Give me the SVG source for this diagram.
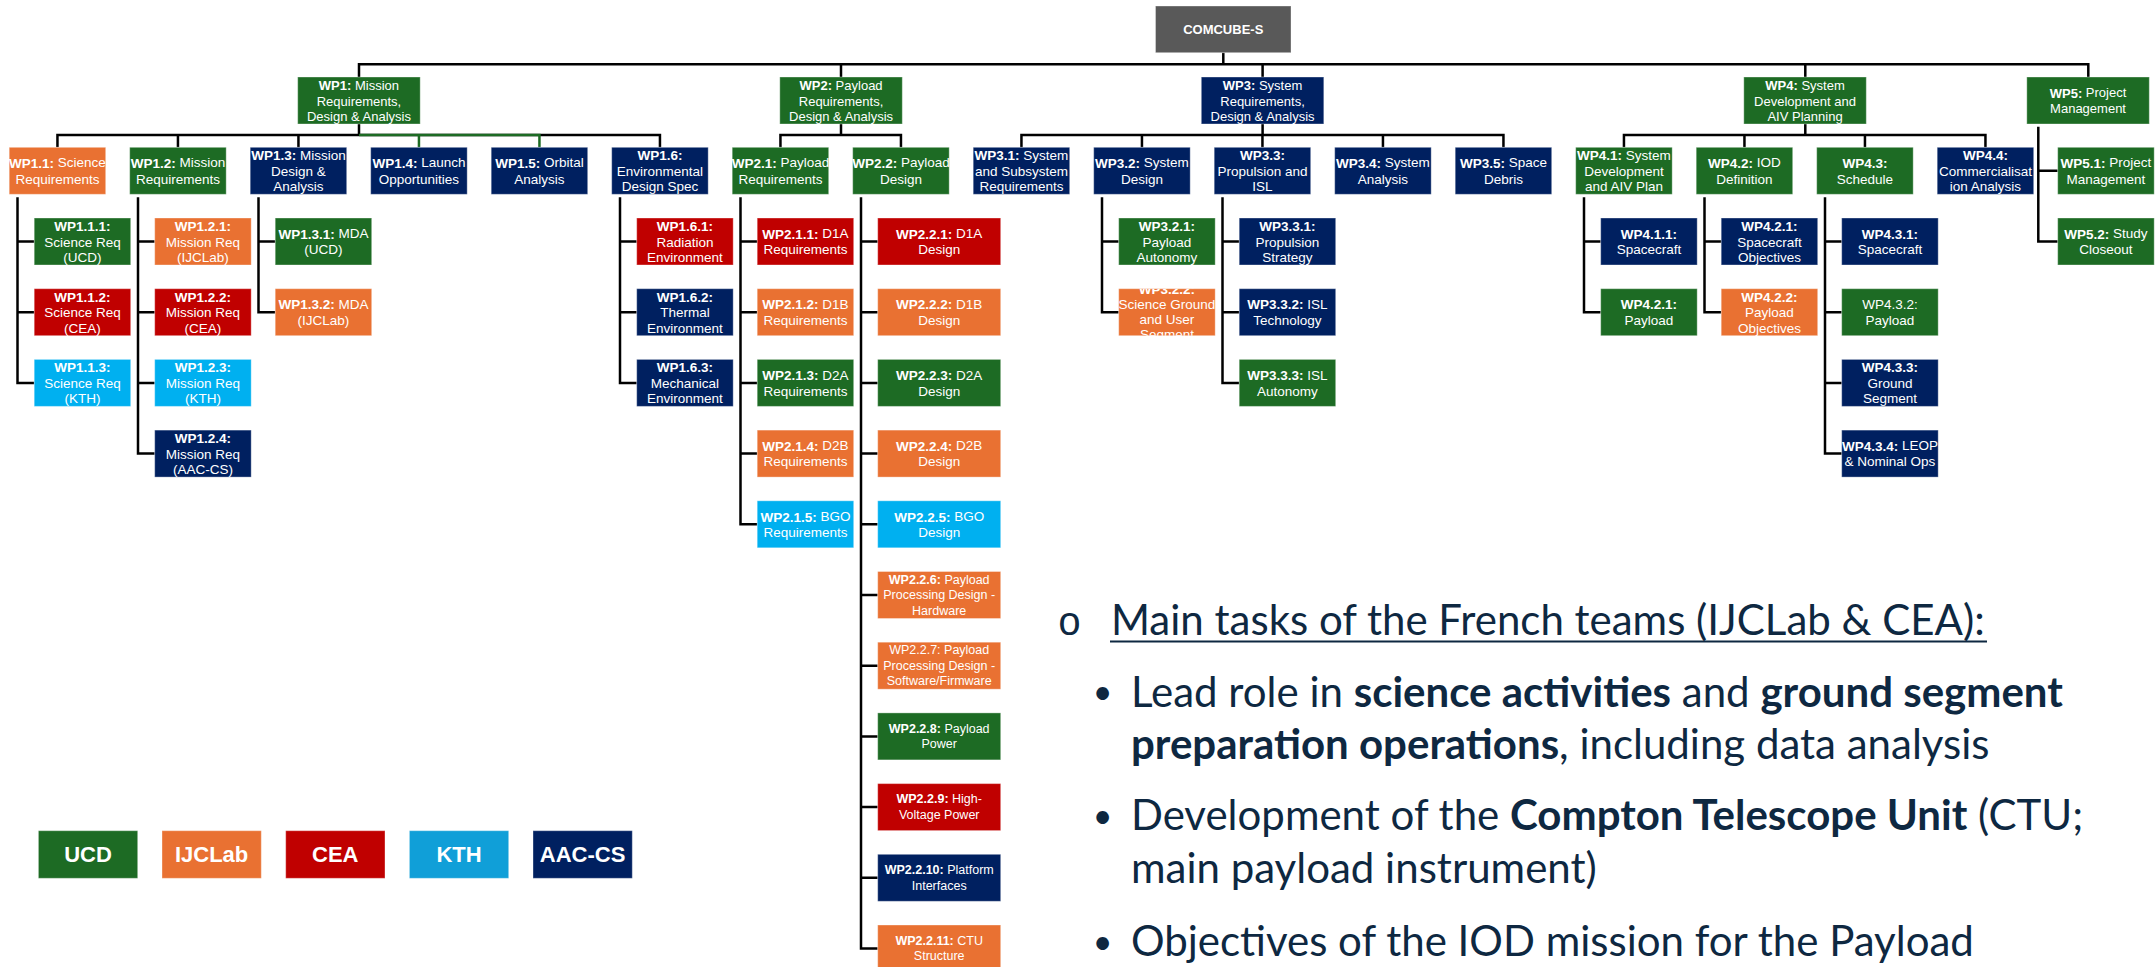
<svg xmlns="http://www.w3.org/2000/svg" width="2156" height="967" viewBox="0 0 2156 967">
<style>
  .bx{stroke:#ffffff;stroke-opacity:0.35;stroke-width:1}
  .gr{fill:#1d6b24}
  .or{fill:#e97132}
  .rd{fill:#c00000}
  .bl{fill:#00b0f0}
  .nv{fill:#002060}
  .gy{fill:#595959}
  .t{font-family:"Liberation Sans",Arial,sans-serif;font-size:13.5px;fill:#ffffff;text-anchor:middle;dominant-baseline:central}
  .t13{font-size:13px}
  .t12{font-size:12.5px}
  .k{font-weight:bold}
  .c{fill:none;stroke:#000000;stroke-width:2.5}
  .cg{fill:none;stroke:#1d6b24;stroke-width:2.5}
  .lg{font-family:"Liberation Sans",Arial,sans-serif;font-size:22px;font-weight:bold;fill:#ffffff;text-anchor:middle;dominant-baseline:central}
  .p{font-family:Lato,"Liberation Sans",sans-serif;font-size:42px;fill:#0e2841}
  .pb{font-weight:bold}
  .dot{font-family:Lato,"Liberation Sans",sans-serif;font-size:34px;fill:#0e2841;text-anchor:middle}
</style>
<defs>
  <clipPath id="clip-wp322"><rect x="1118.7" y="288.7" width="96.5" height="47"/></clipPath>
</defs>

<!-- tree connectors -->
<g id="connectors">
  <path class="c" d="M1223.3 52.7V64.3"/>
  <path class="c" d="M359 77V64.3H2088.3V77M841 64.3V77M1262.6 64.3V77M1805.3 64.3V77"/>
  <!-- WP1 branch -->
  <path class="c" d="M359 124V135M57.45 147.3V135H659.95V147.3M177.95 135V147.3M298.45 135V147.3"/>
  <path class="cg" d="M359 135H539.45V147.3M418.95 135V147.3"/>
  <!-- WP2 branch -->
  <path class="c" d="M841 124V135M780.45 147.3V135H900.95V147.3"/>
  <!-- WP3 branch -->
  <path class="c" d="M1262.6 124V135M1021.45 147.3V135H1503.45V147.3M1141.95 135V147.3M1262.45 135V147.3M1382.95 135V147.3"/>
  <!-- WP4 branch -->
  <path class="c" d="M1805.3 124V135M1623.95 147.3V135H1985.45V147.3M1744.45 135V147.3M1864.95 135V147.3"/>
  <!-- WP5 branch -->
  <path class="c" d="M2057.7 241.5H2038.3V126.7M2038.3 170.8H2057.7"/>
  <!-- child rails -->
  <path class="c" d="M34.2 382.9H17.5V197.3M17.5 241.5H34.2M17.5 312.2H34.2"/>
  <path class="c" d="M154.7 453.6H138V197.3M138 241.5H154.7M138 312.2H154.7M138 382.9H154.7"/>
  <path class="c" d="M275.2 312.2H258.5V197.3M258.5 241.5H275.2"/>
  <path class="c" d="M636.7 382.9H620V197.3M620 241.5H636.7M620 312.2H636.7"/>
  <path class="c" d="M757.2 524.3H740.5V197.3M740.5 241.5H757.2M740.5 312.2H757.2M740.5 382.9H757.2M740.5 453.6H757.2"/>
  <path class="c" d="M877.7 948.5H861V197.3M861 241.5H877.7M861 312.2H877.7M861 382.9H877.7M861 453.6H877.7M861 524.3H877.7M861 595H877.7M861 665.7H877.7M861 736.4H877.7M861 807.1H877.7M861 877.8H877.7"/>
  <path class="c" d="M1118.7 312.2H1102V197.3M1102 241.5H1118.7"/>
  <path class="c" d="M1239.2 382.9H1222.5V197.3M1222.5 241.5H1239.2M1222.5 312.2H1239.2"/>
  <path class="c" d="M1600.7 312.2H1584V197.3M1584 241.5H1600.7"/>
  <path class="c" d="M1721.2 312.2H1704.5V197.3M1704.5 241.5H1721.2"/>
  <path class="c" d="M1841.7 453.6H1825V197.3M1825 241.5H1841.7M1825 312.2H1841.7M1825 382.9H1841.7"/>
</g>

<!-- root -->
<g id="comcube-s"><rect class="bx gy" x="1155.5" y="6" width="135.5" height="46.7"/><text class="t t13 k" x="1223.25" y="29.5">COMCUBE-S</text></g>

<!-- work packages -->
<g id="wp1"><rect class="bx gr" x="297.7" y="77" width="122.5" height="47"/><text class="t t13" x="358.95" y="85"><tspan class="k">WP1:</tspan> Mission<tspan x="358.95" dy="15.5">Requirements,</tspan><tspan x="358.95" dy="15.5">Design &amp; Analysis</tspan></text></g>
<g id="wp2"><rect class="bx gr" x="779.8" y="77" width="122.5" height="47"/><text class="t t13" x="841.05" y="85"><tspan class="k">WP2:</tspan> Payload<tspan x="841.05" dy="15.5">Requirements,</tspan><tspan x="841.05" dy="15.5">Design &amp; Analysis</tspan></text></g>
<g id="wp3"><rect class="bx nv" x="1201.3" y="77" width="122.5" height="47"/><text class="t t13" x="1262.55" y="85"><tspan class="k">WP3:</tspan> System<tspan x="1262.55" dy="15.5">Requirements,</tspan><tspan x="1262.55" dy="15.5">Design &amp; Analysis</tspan></text></g>
<g id="wp4"><rect class="bx gr" x="1743.8" y="77" width="122.5" height="47"/><text class="t t13" x="1805.05" y="85"><tspan class="k">WP4:</tspan> System<tspan x="1805.05" dy="15.5">Development and</tspan><tspan x="1805.05" dy="15.5">AIV Planning</tspan></text></g>
<g id="wp5"><rect class="bx gr" x="2026.8" y="77" width="122.5" height="47"/><text class="t t13" x="2088.05" y="92.75"><tspan class="k">WP5:</tspan> Project<tspan x="2088.05" dy="15.5">Management</tspan></text></g>

<!-- second level -->
<g id="wp1-1"><rect class="bx or" x="9.2" y="147.3" width="96.5" height="47"/><text class="t" x="57.45" y="162.8"><tspan class="k">WP1.1:</tspan> Science<tspan x="57.45" dy="16">Requirements</tspan></text></g>
<g id="wp1-2"><rect class="bx gr" x="129.7" y="147.3" width="96.5" height="47"/><text class="t" x="177.95" y="162.8"><tspan class="k">WP1.2:</tspan> Mission<tspan x="177.95" dy="16">Requirements</tspan></text></g>
<g id="wp1-3"><rect class="bx nv" x="250.2" y="147.3" width="96.5" height="47"/><text class="t" x="298.45" y="155.3"><tspan class="k">WP1.3:</tspan> Mission<tspan x="298.45" dy="15.5">Design &amp;</tspan><tspan x="298.45" dy="15.5">Analysis</tspan></text></g>
<g id="wp1-4"><rect class="bx nv" x="370.7" y="147.3" width="96.5" height="47"/><text class="t" x="418.95" y="162.8"><tspan class="k">WP1.4:</tspan> Launch<tspan x="418.95" dy="16">Opportunities</tspan></text></g>
<g id="wp1-5"><rect class="bx nv" x="491.2" y="147.3" width="96.5" height="47"/><text class="t" x="539.45" y="162.8"><tspan class="k">WP1.5:</tspan> Orbital<tspan x="539.45" dy="16">Analysis</tspan></text></g>
<g id="wp1-6"><rect class="bx nv" x="611.7" y="147.3" width="96.5" height="47"/><text class="t" x="659.95" y="155.3"><tspan class="k">WP1.6:</tspan><tspan x="659.95" dy="15.5">Environmental</tspan><tspan x="659.95" dy="15.5">Design Spec</tspan></text></g>
<g id="wp2-1"><rect class="bx gr" x="732.2" y="147.3" width="96.5" height="47"/><text class="t" x="780.45" y="162.8"><tspan class="k">WP2.1:</tspan> Payload<tspan x="780.45" dy="16">Requirements</tspan></text></g>
<g id="wp2-2"><rect class="bx gr" x="852.7" y="147.3" width="96.5" height="47"/><text class="t" x="900.95" y="162.8"><tspan class="k">WP2.2:</tspan> Payload<tspan x="900.95" dy="16">Design</tspan></text></g>
<g id="wp3-1"><rect class="bx nv" x="973.2" y="147.3" width="96.5" height="47"/><text class="t" x="1021.45" y="155.3"><tspan class="k">WP3.1:</tspan> System<tspan x="1021.45" dy="15.5">and Subsystem</tspan><tspan x="1021.45" dy="15.5">Requirements</tspan></text></g>
<g id="wp3-2"><rect class="bx nv" x="1093.7" y="147.3" width="96.5" height="47"/><text class="t" x="1141.95" y="162.8"><tspan class="k">WP3.2:</tspan> System<tspan x="1141.95" dy="16">Design</tspan></text></g>
<g id="wp3-3"><rect class="bx nv" x="1214.2" y="147.3" width="96.5" height="47"/><text class="t" x="1262.45" y="155.3"><tspan class="k">WP3.3:</tspan><tspan x="1262.45" dy="15.5">Propulsion and</tspan><tspan x="1262.45" dy="15.5">ISL</tspan></text></g>
<g id="wp3-4"><rect class="bx nv" x="1334.7" y="147.3" width="96.5" height="47"/><text class="t" x="1382.95" y="162.8"><tspan class="k">WP3.4:</tspan> System<tspan x="1382.95" dy="16">Analysis</tspan></text></g>
<g id="wp3-5"><rect class="bx nv" x="1455.2" y="147.3" width="96.5" height="47"/><text class="t" x="1503.45" y="162.8"><tspan class="k">WP3.5:</tspan> Space<tspan x="1503.45" dy="16">Debris</tspan></text></g>
<g id="wp4-1"><rect class="bx gr" x="1575.7" y="147.3" width="96.5" height="47"/><text class="t" x="1623.95" y="155.3"><tspan class="k">WP4.1:</tspan> System<tspan x="1623.95" dy="15.5">Development</tspan><tspan x="1623.95" dy="15.5">and AIV Plan</tspan></text></g>
<g id="wp4-2"><rect class="bx gr" x="1696.2" y="147.3" width="96.5" height="47"/><text class="t" x="1744.45" y="162.8"><tspan class="k">WP4.2:</tspan> IOD<tspan x="1744.45" dy="16">Definition</tspan></text></g>
<g id="wp4-3"><rect class="bx gr" x="1816.7" y="147.3" width="96.5" height="47"/><text class="t" x="1864.95" y="162.8"><tspan class="k">WP4.3:</tspan><tspan x="1864.95" dy="16">Schedule</tspan></text></g>
<g id="wp4-4"><rect class="bx nv" x="1937.2" y="147.3" width="96.5" height="47"/><text class="t" x="1985.45" y="155.3"><tspan class="k">WP4.4:</tspan><tspan x="1985.45" dy="15.5">Commercialisat</tspan><tspan x="1985.45" dy="15.5">ion Analysis</tspan></text></g>
<g id="wp5-1"><rect class="bx gr" x="2057.7" y="147.3" width="96.5" height="47"/><text class="t" x="2105.95" y="162.8"><tspan class="k">WP5.1:</tspan> Project<tspan x="2105.95" dy="16">Management</tspan></text></g>
<g id="wp5-2"><rect class="bx gr" x="2057.7" y="218" width="96.5" height="47"/><text class="t" x="2105.95" y="233.75"><tspan class="k">WP5.2:</tspan> Study<tspan x="2105.95" dy="15.5">Closeout</tspan></text></g>

<!-- WP1 sub-tasks -->
<g id="wp1-1-1"><rect class="bx gr" x="34.2" y="218" width="96.5" height="47"/><text class="t" x="82.45" y="226"><tspan class="k">WP1.1.1:</tspan><tspan x="82.45" dy="15.5">Science Req</tspan><tspan x="82.45" dy="15.5">(UCD)</tspan></text></g>
<g id="wp1-1-2"><rect class="bx rd" x="34.2" y="288.7" width="96.5" height="47"/><text class="t" x="82.45" y="296.7"><tspan class="k">WP1.1.2:</tspan><tspan x="82.45" dy="15.5">Science Req</tspan><tspan x="82.45" dy="15.5">(CEA)</tspan></text></g>
<g id="wp1-1-3"><rect class="bx bl" x="34.2" y="359.4" width="96.5" height="47"/><text class="t" x="82.45" y="367.4"><tspan class="k">WP1.1.3:</tspan><tspan x="82.45" dy="15.5">Science Req</tspan><tspan x="82.45" dy="15.5">(KTH)</tspan></text></g>
<g id="wp1-2-1"><rect class="bx or" x="154.7" y="218" width="96.5" height="47"/><text class="t" x="202.95" y="226"><tspan class="k">WP1.2.1:</tspan><tspan x="202.95" dy="15.5">Mission Req</tspan><tspan x="202.95" dy="15.5">(IJCLab)</tspan></text></g>
<g id="wp1-2-2"><rect class="bx rd" x="154.7" y="288.7" width="96.5" height="47"/><text class="t" x="202.95" y="296.7"><tspan class="k">WP1.2.2:</tspan><tspan x="202.95" dy="15.5">Mission Req</tspan><tspan x="202.95" dy="15.5">(CEA)</tspan></text></g>
<g id="wp1-2-3"><rect class="bx bl" x="154.7" y="359.4" width="96.5" height="47"/><text class="t" x="202.95" y="367.4"><tspan class="k">WP1.2.3:</tspan><tspan x="202.95" dy="15.5">Mission Req</tspan><tspan x="202.95" dy="15.5">(KTH)</tspan></text></g>
<g id="wp1-2-4"><rect class="bx nv" x="154.7" y="430.1" width="96.5" height="47"/><text class="t" x="202.95" y="438.1"><tspan class="k">WP1.2.4:</tspan><tspan x="202.95" dy="15.5">Mission Req</tspan><tspan x="202.95" dy="15.5">(AAC-CS)</tspan></text></g>
<g id="wp1-3-1"><rect class="bx gr" x="275.2" y="218" width="96.5" height="47"/><text class="t" x="323.45" y="233.75"><tspan class="k">WP1.3.1:</tspan> MDA<tspan x="323.45" dy="15.5">(UCD)</tspan></text></g>
<g id="wp1-3-2"><rect class="bx or" x="275.2" y="288.7" width="96.5" height="47"/><text class="t" x="323.45" y="304.45"><tspan class="k">WP1.3.2:</tspan> MDA<tspan x="323.45" dy="15.5">(IJCLab)</tspan></text></g>
<g id="wp1-6-1"><rect class="bx rd" x="636.7" y="218" width="96.5" height="47"/><text class="t" x="684.95" y="226"><tspan class="k">WP1.6.1:</tspan><tspan x="684.95" dy="15.5">Radiation</tspan><tspan x="684.95" dy="15.5">Environment</tspan></text></g>
<g id="wp1-6-2"><rect class="bx nv" x="636.7" y="288.7" width="96.5" height="47"/><text class="t" x="684.95" y="296.7"><tspan class="k">WP1.6.2:</tspan><tspan x="684.95" dy="15.5">Thermal</tspan><tspan x="684.95" dy="15.5">Environment</tspan></text></g>
<g id="wp1-6-3"><rect class="bx nv" x="636.7" y="359.4" width="96.5" height="47"/><text class="t" x="684.95" y="367.4"><tspan class="k">WP1.6.3:</tspan><tspan x="684.95" dy="15.5">Mechanical</tspan><tspan x="684.95" dy="15.5">Environment</tspan></text></g>

<!-- WP2 sub-tasks -->
<g id="wp2-1-1"><rect class="bx rd" x="757.2" y="218" width="96.5" height="47"/><text class="t" x="805.45" y="233.75"><tspan class="k">WP2.1.1:</tspan> D1A<tspan x="805.45" dy="15.5">Requirements</tspan></text></g>
<g id="wp2-1-2"><rect class="bx or" x="757.2" y="288.7" width="96.5" height="47"/><text class="t" x="805.45" y="304.45"><tspan class="k">WP2.1.2:</tspan> D1B<tspan x="805.45" dy="15.5">Requirements</tspan></text></g>
<g id="wp2-1-3"><rect class="bx gr" x="757.2" y="359.4" width="96.5" height="47"/><text class="t" x="805.45" y="375.15"><tspan class="k">WP2.1.3:</tspan> D2A<tspan x="805.45" dy="15.5">Requirements</tspan></text></g>
<g id="wp2-1-4"><rect class="bx or" x="757.2" y="430.1" width="96.5" height="47"/><text class="t" x="805.45" y="445.85"><tspan class="k">WP2.1.4:</tspan> D2B<tspan x="805.45" dy="15.5">Requirements</tspan></text></g>
<g id="wp2-1-5"><rect class="bx bl" x="757.2" y="500.8" width="96.5" height="47"/><text class="t" x="805.45" y="516.55"><tspan class="k">WP2.1.5:</tspan> BGO<tspan x="805.45" dy="15.5">Requirements</tspan></text></g>
<g id="wp2-2-1"><rect class="bx rd" x="877.7" y="218" width="123" height="47"/><text class="t" x="939.2" y="233.75"><tspan class="k">WP2.2.1:</tspan> D1A<tspan x="939.2" dy="15.5">Design</tspan></text></g>
<g id="wp2-2-2"><rect class="bx or" x="877.7" y="288.7" width="123" height="47"/><text class="t" x="939.2" y="304.45"><tspan class="k">WP2.2.2:</tspan> D1B<tspan x="939.2" dy="15.5">Design</tspan></text></g>
<g id="wp2-2-3"><rect class="bx gr" x="877.7" y="359.4" width="123" height="47"/><text class="t" x="939.2" y="375.15"><tspan class="k">WP2.2.3:</tspan> D2A<tspan x="939.2" dy="15.5">Design</tspan></text></g>
<g id="wp2-2-4"><rect class="bx or" x="877.7" y="430.1" width="123" height="47"/><text class="t" x="939.2" y="445.85"><tspan class="k">WP2.2.4:</tspan> D2B<tspan x="939.2" dy="15.5">Design</tspan></text></g>
<g id="wp2-2-5"><rect class="bx bl" x="877.7" y="500.8" width="123" height="47"/><text class="t" x="939.2" y="516.55"><tspan class="k">WP2.2.5:</tspan> BGO<tspan x="939.2" dy="15.5">Design</tspan></text></g>
<g id="wp2-2-6"><rect class="bx or" x="877.7" y="571.5" width="123" height="47"/><text class="t t12" x="939.2" y="579.5"><tspan class="k">WP2.2.6:</tspan> Payload<tspan x="939.2" dy="15.5">Processing Design -</tspan><tspan x="939.2" dy="15.5">Hardware</tspan></text></g>
<g id="wp2-2-7"><rect class="bx or" x="877.7" y="642.2" width="123" height="47"/><text class="t t12" x="939.2" y="650.2">WP2.2.7: Payload<tspan x="939.2" dy="15.5">Processing Design -</tspan><tspan x="939.2" dy="15.5">Software/Firmware</tspan></text></g>
<g id="wp2-2-8"><rect class="bx gr" x="877.7" y="712.9" width="123" height="47"/><text class="t t12" x="939.2" y="728.65"><tspan class="k">WP2.2.8:</tspan> Payload<tspan x="939.2" dy="15.5">Power</tspan></text></g>
<g id="wp2-2-9"><rect class="bx rd" x="877.7" y="783.6" width="123" height="47"/><text class="t t12" x="939.2" y="799.35"><tspan class="k">WP2.2.9:</tspan> High-<tspan x="939.2" dy="15.5">Voltage Power</tspan></text></g>
<g id="wp2-2-10"><rect class="bx nv" x="877.7" y="854.3" width="123" height="47"/><text class="t t12" x="939.2" y="870.05"><tspan class="k">WP2.2.10:</tspan> Platform<tspan x="939.2" dy="15.5">Interfaces</tspan></text></g>
<g id="wp2-2-11"><rect class="bx or" x="877.7" y="925" width="123" height="47"/><text class="t t12" x="939.2" y="940.75"><tspan class="k">WP2.2.11:</tspan> CTU<tspan x="939.2" dy="15.5">Structure</tspan></text></g>

<!-- WP3 sub-tasks -->
<g id="wp3-2-1"><rect class="bx gr" x="1118.7" y="218" width="96.5" height="47"/><text class="t" x="1166.95" y="226"><tspan class="k">WP3.2.1:</tspan><tspan x="1166.95" dy="15.5">Payload</tspan><tspan x="1166.95" dy="15.5">Autonomy</tspan></text></g>
<g id="wp3-2-2"><rect class="bx or" x="1118.7" y="288.7" width="96.5" height="47"/><text class="t" x="1166.95" y="289.2" clip-path="url(#clip-wp322)"><tspan class="k">WP3.2.2:</tspan><tspan x="1166.95" dy="15">Science Ground</tspan><tspan x="1166.95" dy="15">and User</tspan><tspan x="1166.95" dy="15">Segment</tspan></text></g>
<g id="wp3-3-1"><rect class="bx nv" x="1239.2" y="218" width="96.5" height="47"/><text class="t" x="1287.45" y="226"><tspan class="k">WP3.3.1:</tspan><tspan x="1287.45" dy="15.5">Propulsion</tspan><tspan x="1287.45" dy="15.5">Strategy</tspan></text></g>
<g id="wp3-3-2"><rect class="bx nv" x="1239.2" y="288.7" width="96.5" height="47"/><text class="t" x="1287.45" y="304.45"><tspan class="k">WP3.3.2:</tspan> ISL<tspan x="1287.45" dy="15.5">Technology</tspan></text></g>
<g id="wp3-3-3"><rect class="bx gr" x="1239.2" y="359.4" width="96.5" height="47"/><text class="t" x="1287.45" y="375.15"><tspan class="k">WP3.3.3:</tspan> ISL<tspan x="1287.45" dy="15.5">Autonomy</tspan></text></g>

<!-- WP4 sub-tasks -->
<g id="wp4-1-1"><rect class="bx nv" x="1600.7" y="218" width="96.5" height="47"/><text class="t" x="1648.95" y="233.75"><tspan class="k">WP4.1.1:</tspan><tspan x="1648.95" dy="15.5">Spacecraft</tspan></text></g>
<g id="wp4-1-2"><rect class="bx gr" x="1600.7" y="288.7" width="96.5" height="47"/><text class="t" x="1648.95" y="304.45"><tspan class="k">WP4.2.1:</tspan><tspan x="1648.95" dy="15.5">Payload</tspan></text></g>
<g id="wp4-2-1"><rect class="bx nv" x="1721.2" y="218" width="96.5" height="47"/><text class="t" x="1769.45" y="226"><tspan class="k">WP4.2.1:</tspan><tspan x="1769.45" dy="15.5">Spacecraft</tspan><tspan x="1769.45" dy="15.5">Objectives</tspan></text></g>
<g id="wp4-2-2"><rect class="bx or" x="1721.2" y="288.7" width="96.5" height="47"/><text class="t" x="1769.45" y="296.7"><tspan class="k">WP4.2.2:</tspan><tspan x="1769.45" dy="15.5">Payload</tspan><tspan x="1769.45" dy="15.5">Objectives</tspan></text></g>
<g id="wp4-3-1"><rect class="bx nv" x="1841.7" y="218" width="96.5" height="47"/><text class="t" x="1889.95" y="233.75"><tspan class="k">WP4.3.1:</tspan><tspan x="1889.95" dy="15.5">Spacecraft</tspan></text></g>
<g id="wp4-3-2"><rect class="bx gr" x="1841.7" y="288.7" width="96.5" height="47"/><text class="t" x="1889.95" y="304.45">WP4.3.2:<tspan x="1889.95" dy="15.5">Payload</tspan></text></g>
<g id="wp4-3-3"><rect class="bx nv" x="1841.7" y="359.4" width="96.5" height="47"/><text class="t" x="1889.95" y="367.4"><tspan class="k">WP4.3.3:</tspan><tspan x="1889.95" dy="15.5">Ground</tspan><tspan x="1889.95" dy="15.5">Segment</tspan></text></g>
<g id="wp4-3-4"><rect class="bx nv" x="1841.7" y="430.1" width="96.5" height="47"/><text class="t" x="1889.95" y="445.85"><tspan class="k">WP4.3.4:</tspan> LEOP<tspan x="1889.95" dy="15.5">&amp; Nominal Ops</tspan></text></g>

<!-- partner legend -->
<g id="legend">
  <g id="legend-ucd"><rect class="bx gr" x="38.4" y="830.7" width="99.3" height="47.6"/><text class="lg" x="88" y="854.5">UCD</text></g>
  <g id="legend-ijclab"><rect class="bx or" x="162" y="830.7" width="99.3" height="47.6"/><text class="lg" x="211.6" y="854.5">IJCLab</text></g>
  <g id="legend-cea"><rect class="bx rd" x="285.7" y="830.7" width="99.3" height="47.6"/><text class="lg" x="335.3" y="854.5">CEA</text></g>
  <g id="legend-kth"><rect class="bx" fill="#109fd8" x="409.4" y="830.7" width="99.3" height="47.6"/><text class="lg" x="459" y="854.5">KTH</text></g>
  <g id="legend-aac"><rect class="bx nv" x="533" y="830.7" width="99.3" height="47.6"/><text class="lg" x="582.6" y="854.5">AAC-CS</text></g>
</g>

<!-- notes -->
<g id="notes">
  <text x="1069.5" y="635" font-family="'Liberation Mono',monospace" font-size="40" fill="#0e2841" text-anchor="middle">o</text>
  <text class="p" x="1111" y="635">Main tasks of the French teams (IJCLab &amp; CEA):</text>
  <line x1="1110" y1="641.5" x2="1987" y2="641.5" stroke="#0e2841" stroke-width="2.2"/>
  <text class="dot" x="1102.6" y="704">•</text>
  <text class="p" x="1131" y="706.7">Lead role in <tspan class="pb">science activities</tspan> and <tspan class="pb">ground segment</tspan></text>
  <text class="p" x="1131" y="759"><tspan class="pb">preparation operations</tspan>, including data analysis</text>
  <text class="dot" x="1102.6" y="828">•</text>
  <text class="p" x="1131" y="830">Development of the <tspan class="pb">Compton Telescope Unit</tspan> (CTU;</text>
  <text class="p" x="1131" y="883">main payload instrument)</text>
  <text class="dot" x="1102.6" y="954">•</text>
  <text class="p" x="1131" y="956">Objectives of the IOD mission for the Payload</text>
</g>
</svg>
